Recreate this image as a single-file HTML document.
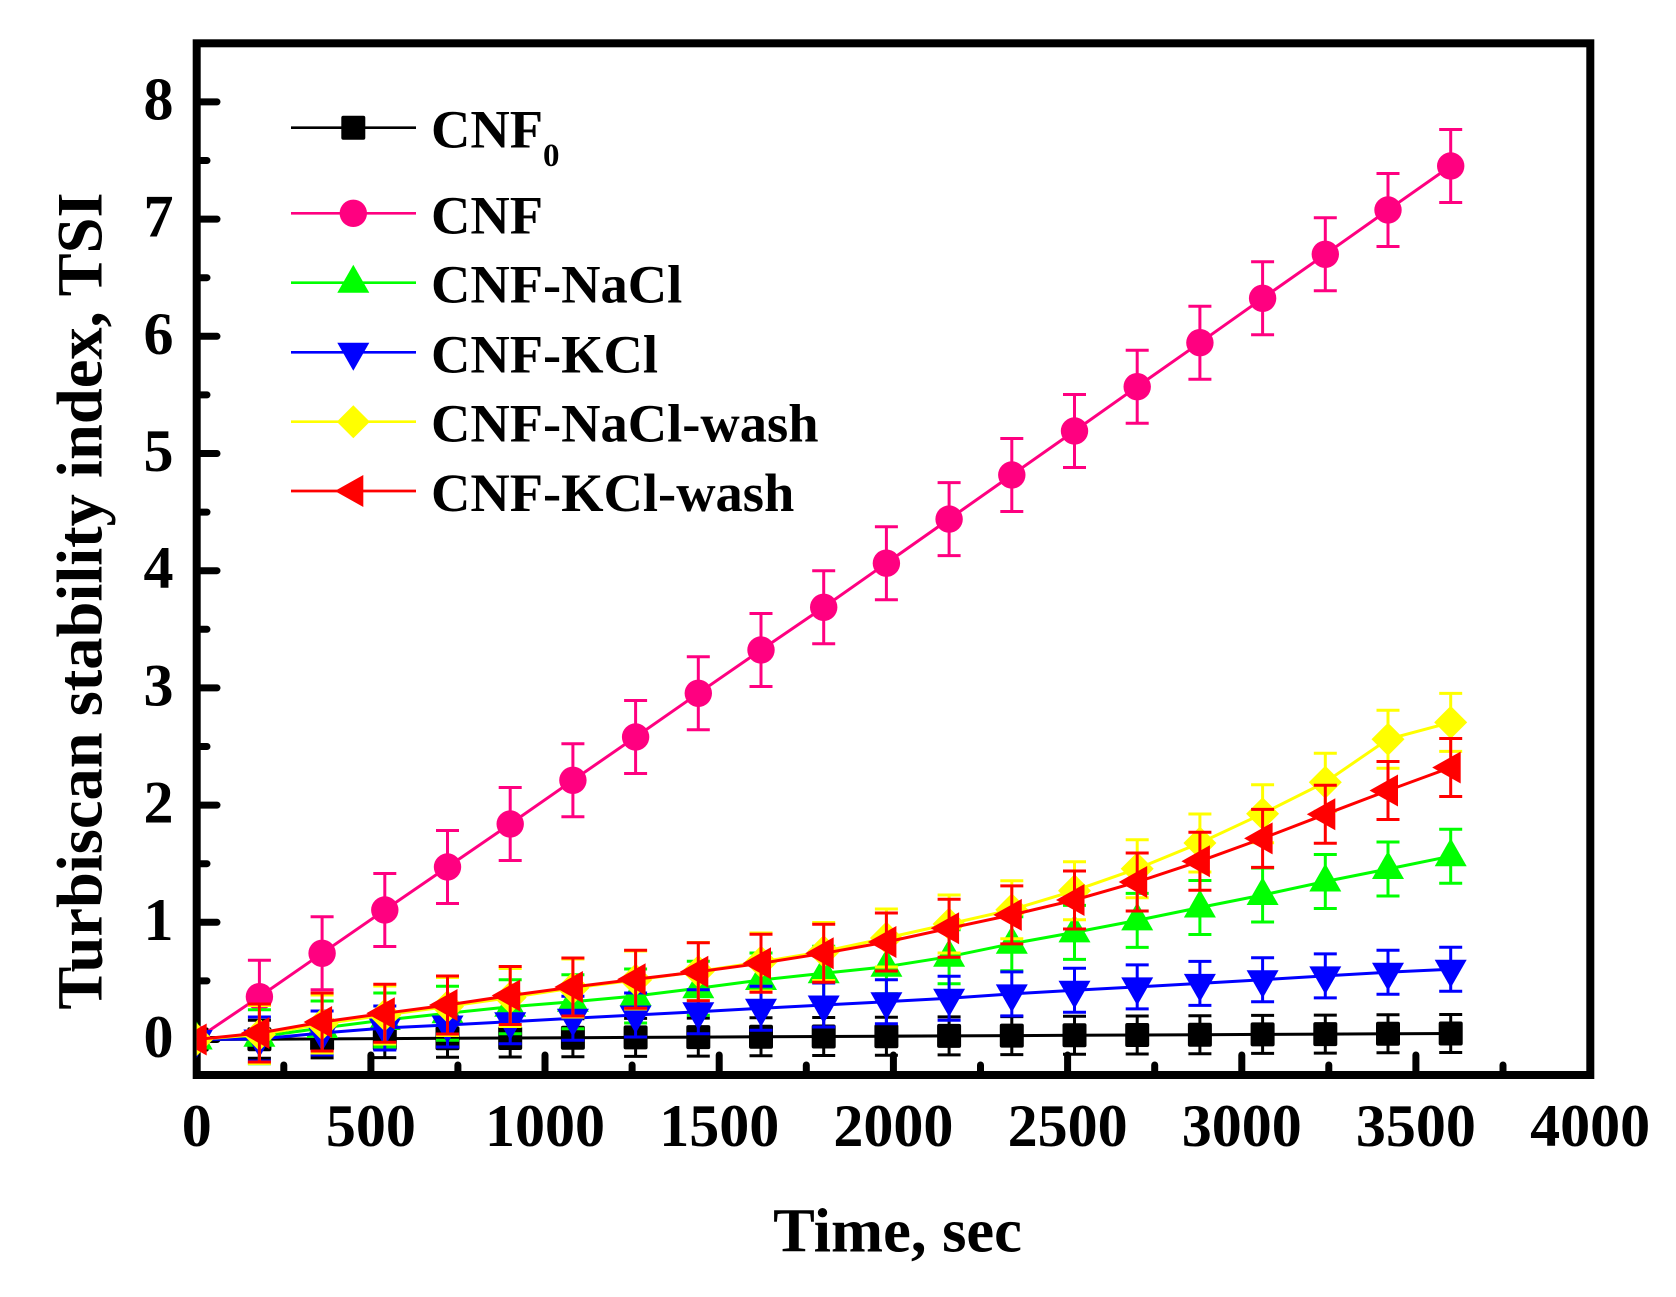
<!DOCTYPE html>
<html><head><meta charset="utf-8"><style>
html,body{margin:0;padding:0;background:#fff;}
svg{display:block;}
text{font-family:"Liberation Serif","Times New Roman",serif;font-weight:bold;fill:#000;}
</style></head><body>
<svg width="1676" height="1297" viewBox="0 0 1676 1297" xmlns="http://www.w3.org/2000/svg" xmlns:xlink="http://www.w3.org/1999/xlink">
<defs>
<clipPath id="pc"><rect x="196.7" y="43" width="1394" height="1032"/></clipPath>
<rect id="sq" x="-12" y="-12" width="24" height="24" rx="2"/>
<circle id="ci" r="13.7"/>
<polygon id="tu" points="0,-18 16,10 -16,10"/>
<polygon id="td" points="0,18.5 16,-9.5 -16,-9.5"/>
<polygon id="di" points="0,-16.5 16.5,0 0,16.5 -16.5,0"/>
<polygon id="tl" points="-18.5,0 10,-16 10,16"/>
<path id="e19" d="M0,-19V19M-11.5,-19h23M-11.5,19h23"/>
<path id="e22" d="M0,-22V22M-11.5,-22h23M-11.5,22h23"/>
<path id="e27" d="M0,-27V27M-11.5,-27h23M-11.5,27h23"/>
<path id="e29" d="M0,-29V29M-11.5,-29h23M-11.5,29h23"/>
<path id="e36" d="M0,-36.5V36.5M-11.5,-36.5h23M-11.5,36.5h23"/>
</defs>
<rect width="1676" height="1297" fill="#fff"/>

<!-- frame -->
<rect x="196.7" y="43.3" width="1393.6" height="1031.7" fill="none" stroke="#000" stroke-width="8"/>

<!-- y ticks -->
<g stroke="#000" stroke-width="7" stroke-linecap="round">
<path d="M197,1039.5H217M197,922.3H217M197,805.1H217M197,687.9H217M197,570.7H217M197,453.5H217M197,336.3H217M197,219.1H217M197,101.9H217"/>
<path d="M197,980.9H207M197,863.7H207M197,746.5H207M197,629.3H207M197,512.1H207M197,394.9H207M197,277.7H207M197,160.5H207"/>
<path d="M370.9,1075V1055M545,1075V1055M719.2,1075V1055M893.4,1075V1055M1067.6,1075V1055M1241.8,1075V1055M1415.9,1075V1055"/>
<path d="M283.8,1075V1065M457.9,1075V1065M632.1,1075V1065M806.3,1075V1065M980.5,1075V1065M1154.7,1075V1065M1328.8,1075V1065M1503,1075V1065"/>
</g>

<!-- y tick labels -->
<g font-size="60" text-anchor="end">
<text x="173.5" y="1057">0</text>
<text x="173.5" y="939.8">1</text>
<text x="173.5" y="822.6">2</text>
<text x="173.5" y="705.4">3</text>
<text x="173.5" y="588.2">4</text>
<text x="173.5" y="471">5</text>
<text x="173.5" y="353.8">6</text>
<text x="173.5" y="236.6">7</text>
<text x="173.5" y="119.4">8</text>
</g>
<!-- x tick labels -->
<g font-size="60" text-anchor="middle">
<text x="196.7" y="1146">0</text>
<text x="370.9" y="1146">500</text>
<text x="545" y="1146">1000</text>
<text x="719.2" y="1146">1500</text>
<text x="893.4" y="1146">2000</text>
<text x="1067.6" y="1146">2500</text>
<text x="1241.8" y="1146">3000</text>
<text x="1415.9" y="1146">3500</text>
<text x="1590.1" y="1146">4000</text>
</g>

<!-- axis titles -->
<text x="897.5" y="1251.7" font-size="62.5" text-anchor="middle">Time, sec</text>
<text transform="translate(101.7,601) rotate(-90)" font-size="64.5" text-anchor="middle">Turbiscan stability index, TSI</text>

<!-- data -->
<g clip-path="url(#pc)">
<!-- CNF0 black -->
<polyline fill="none" stroke="#000" stroke-width="3" points="196.7,1039.5 259.4,1039.2 322.1,1038.9 384.8,1038.6 447.5,1038.3 510.2,1038 572.9,1037.7 635.6,1037.4 698.3,1037.1 761,1036.8 823.7,1036.5 886.4,1036.2 949.1,1035.9 1011.8,1035.6 1074.5,1035.3 1137.2,1035 1199.9,1034.7 1262.6,1034.4 1325.3,1034.1 1388,1033.8 1450.7,1033.5"/>
<g stroke="#000" stroke-width="3" fill="none">
<use href="#e19" xlink:href="#e19" x="259.4" y="1039.2"/><use href="#e19" xlink:href="#e19" x="322.1" y="1038.9"/><use href="#e19" xlink:href="#e19" x="384.8" y="1038.6"/><use href="#e19" xlink:href="#e19" x="447.5" y="1038.3"/><use href="#e19" xlink:href="#e19" x="510.2" y="1038"/><use href="#e19" xlink:href="#e19" x="572.9" y="1037.7"/><use href="#e19" xlink:href="#e19" x="635.6" y="1037.4"/><use href="#e19" xlink:href="#e19" x="698.3" y="1037.1"/><use href="#e19" xlink:href="#e19" x="761" y="1036.8"/><use href="#e19" xlink:href="#e19" x="823.7" y="1036.5"/><use href="#e19" xlink:href="#e19" x="886.4" y="1036.2"/><use href="#e19" xlink:href="#e19" x="949.1" y="1035.9"/><use href="#e19" xlink:href="#e19" x="1011.8" y="1035.6"/><use href="#e19" xlink:href="#e19" x="1074.5" y="1035.3"/><use href="#e19" xlink:href="#e19" x="1137.2" y="1035"/><use href="#e19" xlink:href="#e19" x="1199.9" y="1034.7"/><use href="#e19" xlink:href="#e19" x="1262.6" y="1034.4"/><use href="#e19" xlink:href="#e19" x="1325.3" y="1034.1"/><use href="#e19" xlink:href="#e19" x="1388" y="1033.8"/><use href="#e19" xlink:href="#e19" x="1450.7" y="1033.5"/>
</g>
<g fill="#000">
<use href="#sq" xlink:href="#sq" x="196.7" y="1039.5"/><use href="#sq" xlink:href="#sq" x="259.4" y="1039.2"/><use href="#sq" xlink:href="#sq" x="322.1" y="1038.9"/><use href="#sq" xlink:href="#sq" x="384.8" y="1038.6"/><use href="#sq" xlink:href="#sq" x="447.5" y="1038.3"/><use href="#sq" xlink:href="#sq" x="510.2" y="1038"/><use href="#sq" xlink:href="#sq" x="572.9" y="1037.7"/><use href="#sq" xlink:href="#sq" x="635.6" y="1037.4"/><use href="#sq" xlink:href="#sq" x="698.3" y="1037.1"/><use href="#sq" xlink:href="#sq" x="761" y="1036.8"/><use href="#sq" xlink:href="#sq" x="823.7" y="1036.5"/><use href="#sq" xlink:href="#sq" x="886.4" y="1036.2"/><use href="#sq" xlink:href="#sq" x="949.1" y="1035.9"/><use href="#sq" xlink:href="#sq" x="1011.8" y="1035.6"/><use href="#sq" xlink:href="#sq" x="1074.5" y="1035.3"/><use href="#sq" xlink:href="#sq" x="1137.2" y="1035"/><use href="#sq" xlink:href="#sq" x="1199.9" y="1034.7"/><use href="#sq" xlink:href="#sq" x="1262.6" y="1034.4"/><use href="#sq" xlink:href="#sq" x="1325.3" y="1034.1"/><use href="#sq" xlink:href="#sq" x="1388" y="1033.8"/><use href="#sq" xlink:href="#sq" x="1450.7" y="1033.5"/>
</g>

<!-- CNF pink -->
<polyline fill="none" stroke="#FF0080" stroke-width="3" points="196.7,1039 259.4,996.7 322.1,953.3 384.8,910 447.5,867 510.2,824 572.9,780.3 635.6,737 698.3,693.3 761,650 823.7,607.3 886.4,563.2 949.1,519.1 1011.8,475 1074.5,431 1137.2,386.7 1199.9,342.7 1262.6,298.3 1325.3,254.3 1388,210 1450.7,166"/>
<g stroke="#FF0080" stroke-width="3" fill="none">
<use href="#e36" xlink:href="#e36" x="259.4" y="996.7"/><use href="#e36" xlink:href="#e36" x="322.1" y="953.3"/><use href="#e36" xlink:href="#e36" x="384.8" y="910"/><use href="#e36" xlink:href="#e36" x="447.5" y="867"/><use href="#e36" xlink:href="#e36" x="510.2" y="824"/><use href="#e36" xlink:href="#e36" x="572.9" y="780.3"/><use href="#e36" xlink:href="#e36" x="635.6" y="737"/><use href="#e36" xlink:href="#e36" x="698.3" y="693.3"/><use href="#e36" xlink:href="#e36" x="761" y="650"/><use href="#e36" xlink:href="#e36" x="823.7" y="607.3"/><use href="#e36" xlink:href="#e36" x="886.4" y="563.2"/><use href="#e36" xlink:href="#e36" x="949.1" y="519.1"/><use href="#e36" xlink:href="#e36" x="1011.8" y="475"/><use href="#e36" xlink:href="#e36" x="1074.5" y="431"/><use href="#e36" xlink:href="#e36" x="1137.2" y="386.7"/><use href="#e36" xlink:href="#e36" x="1199.9" y="342.7"/><use href="#e36" xlink:href="#e36" x="1262.6" y="298.3"/><use href="#e36" xlink:href="#e36" x="1325.3" y="254.3"/><use href="#e36" xlink:href="#e36" x="1388" y="210"/><use href="#e36" xlink:href="#e36" x="1450.7" y="166"/>
</g>
<g fill="#FF0080">
<use href="#ci" xlink:href="#ci" x="196.7" y="1039"/><use href="#ci" xlink:href="#ci" x="259.4" y="996.7"/><use href="#ci" xlink:href="#ci" x="322.1" y="953.3"/><use href="#ci" xlink:href="#ci" x="384.8" y="910"/><use href="#ci" xlink:href="#ci" x="447.5" y="867"/><use href="#ci" xlink:href="#ci" x="510.2" y="824"/><use href="#ci" xlink:href="#ci" x="572.9" y="780.3"/><use href="#ci" xlink:href="#ci" x="635.6" y="737"/><use href="#ci" xlink:href="#ci" x="698.3" y="693.3"/><use href="#ci" xlink:href="#ci" x="761" y="650"/><use href="#ci" xlink:href="#ci" x="823.7" y="607.3"/><use href="#ci" xlink:href="#ci" x="886.4" y="563.2"/><use href="#ci" xlink:href="#ci" x="949.1" y="519.1"/><use href="#ci" xlink:href="#ci" x="1011.8" y="475"/><use href="#ci" xlink:href="#ci" x="1074.5" y="431"/><use href="#ci" xlink:href="#ci" x="1137.2" y="386.7"/><use href="#ci" xlink:href="#ci" x="1199.9" y="342.7"/><use href="#ci" xlink:href="#ci" x="1262.6" y="298.3"/><use href="#ci" xlink:href="#ci" x="1325.3" y="254.3"/><use href="#ci" xlink:href="#ci" x="1388" y="210"/><use href="#ci" xlink:href="#ci" x="1450.7" y="166"/>
</g>

<!-- CNF-NaCl green -->
<polyline fill="none" stroke="#00FF00" stroke-width="3" points="196.7,1039.5 259.4,1036.7 322.1,1028 384.8,1020 447.5,1013.3 510.2,1006.7 572.9,1001.7 635.6,996 698.3,988.3 761,980 823.7,973.3 886.4,966.7 949.1,956.7 1011.8,943.7 1074.5,932.4 1137.2,920.4 1199.9,907.5 1262.6,895 1325.3,881.5 1388,869 1450.7,856.2"/>
<g stroke="#00FF00" stroke-width="3" fill="none">
<use href="#e27" xlink:href="#e27" x="259.4" y="1036.7"/><use href="#e27" xlink:href="#e27" x="322.1" y="1028"/><use href="#e27" xlink:href="#e27" x="384.8" y="1020"/><use href="#e27" xlink:href="#e27" x="447.5" y="1013.3"/><use href="#e27" xlink:href="#e27" x="510.2" y="1006.7"/><use href="#e27" xlink:href="#e27" x="572.9" y="1001.7"/><use href="#e27" xlink:href="#e27" x="635.6" y="996"/><use href="#e27" xlink:href="#e27" x="698.3" y="988.3"/><use href="#e27" xlink:href="#e27" x="761" y="980"/><use href="#e27" xlink:href="#e27" x="823.7" y="973.3"/><use href="#e27" xlink:href="#e27" x="886.4" y="966.7"/><use href="#e27" xlink:href="#e27" x="949.1" y="956.7"/><use href="#e27" xlink:href="#e27" x="1011.8" y="943.7"/><use href="#e27" xlink:href="#e27" x="1074.5" y="932.4"/><use href="#e27" xlink:href="#e27" x="1137.2" y="920.4"/><use href="#e27" xlink:href="#e27" x="1199.9" y="907.5"/><use href="#e27" xlink:href="#e27" x="1262.6" y="895"/><use href="#e27" xlink:href="#e27" x="1325.3" y="881.5"/><use href="#e27" xlink:href="#e27" x="1388" y="869"/><use href="#e27" xlink:href="#e27" x="1450.7" y="856.2"/>
</g>
<g fill="#00FF00">
<use href="#tu" xlink:href="#tu" x="196.7" y="1039.5"/><use href="#tu" xlink:href="#tu" x="259.4" y="1036.7"/><use href="#tu" xlink:href="#tu" x="322.1" y="1028"/><use href="#tu" xlink:href="#tu" x="384.8" y="1020"/><use href="#tu" xlink:href="#tu" x="447.5" y="1013.3"/><use href="#tu" xlink:href="#tu" x="510.2" y="1006.7"/><use href="#tu" xlink:href="#tu" x="572.9" y="1001.7"/><use href="#tu" xlink:href="#tu" x="635.6" y="996"/><use href="#tu" xlink:href="#tu" x="698.3" y="988.3"/><use href="#tu" xlink:href="#tu" x="761" y="980"/><use href="#tu" xlink:href="#tu" x="823.7" y="973.3"/><use href="#tu" xlink:href="#tu" x="886.4" y="966.7"/><use href="#tu" xlink:href="#tu" x="949.1" y="956.7"/><use href="#tu" xlink:href="#tu" x="1011.8" y="943.7"/><use href="#tu" xlink:href="#tu" x="1074.5" y="932.4"/><use href="#tu" xlink:href="#tu" x="1137.2" y="920.4"/><use href="#tu" xlink:href="#tu" x="1199.9" y="907.5"/><use href="#tu" xlink:href="#tu" x="1262.6" y="895"/><use href="#tu" xlink:href="#tu" x="1325.3" y="881.5"/><use href="#tu" xlink:href="#tu" x="1388" y="869"/><use href="#tu" xlink:href="#tu" x="1450.7" y="856.2"/>
</g>

<!-- CNF-KCl blue -->
<polyline fill="none" stroke="#0000FF" stroke-width="3" points="196.7,1039.5 259.4,1039 322.1,1033 384.8,1028 447.5,1025 510.2,1021.7 572.9,1018.3 635.6,1015 698.3,1011.7 761,1008.3 823.7,1005 886.4,1001.7 949.1,998.3 1011.8,993.9 1074.5,990.3 1137.2,986.9 1199.9,983.4 1262.6,979.7 1325.3,975.9 1388,972.2 1450.7,969.2"/>
<g stroke="#0000FF" stroke-width="3" fill="none">
<use href="#e22" xlink:href="#e22" x="259.4" y="1039"/><use href="#e22" xlink:href="#e22" x="322.1" y="1033"/><use href="#e22" xlink:href="#e22" x="384.8" y="1028"/><use href="#e22" xlink:href="#e22" x="447.5" y="1025"/><use href="#e22" xlink:href="#e22" x="510.2" y="1021.7"/><use href="#e22" xlink:href="#e22" x="572.9" y="1018.3"/><use href="#e22" xlink:href="#e22" x="635.6" y="1015"/><use href="#e22" xlink:href="#e22" x="698.3" y="1011.7"/><use href="#e22" xlink:href="#e22" x="761" y="1008.3"/><use href="#e22" xlink:href="#e22" x="823.7" y="1005"/><use href="#e22" xlink:href="#e22" x="886.4" y="1001.7"/><use href="#e22" xlink:href="#e22" x="949.1" y="998.3"/><use href="#e22" xlink:href="#e22" x="1011.8" y="993.9"/><use href="#e22" xlink:href="#e22" x="1074.5" y="990.3"/><use href="#e22" xlink:href="#e22" x="1137.2" y="986.9"/><use href="#e22" xlink:href="#e22" x="1199.9" y="983.4"/><use href="#e22" xlink:href="#e22" x="1262.6" y="979.7"/><use href="#e22" xlink:href="#e22" x="1325.3" y="975.9"/><use href="#e22" xlink:href="#e22" x="1388" y="972.2"/><use href="#e22" xlink:href="#e22" x="1450.7" y="969.2"/>
</g>
<g fill="#0000FF">
<use href="#td" xlink:href="#td" x="196.7" y="1039.5"/><use href="#td" xlink:href="#td" x="259.4" y="1039"/><use href="#td" xlink:href="#td" x="322.1" y="1033"/><use href="#td" xlink:href="#td" x="384.8" y="1028"/><use href="#td" xlink:href="#td" x="447.5" y="1025"/><use href="#td" xlink:href="#td" x="510.2" y="1021.7"/><use href="#td" xlink:href="#td" x="572.9" y="1018.3"/><use href="#td" xlink:href="#td" x="635.6" y="1015"/><use href="#td" xlink:href="#td" x="698.3" y="1011.7"/><use href="#td" xlink:href="#td" x="761" y="1008.3"/><use href="#td" xlink:href="#td" x="823.7" y="1005"/><use href="#td" xlink:href="#td" x="886.4" y="1001.7"/><use href="#td" xlink:href="#td" x="949.1" y="998.3"/><use href="#td" xlink:href="#td" x="1011.8" y="993.9"/><use href="#td" xlink:href="#td" x="1074.5" y="990.3"/><use href="#td" xlink:href="#td" x="1137.2" y="986.9"/><use href="#td" xlink:href="#td" x="1199.9" y="983.4"/><use href="#td" xlink:href="#td" x="1262.6" y="979.7"/><use href="#td" xlink:href="#td" x="1325.3" y="975.9"/><use href="#td" xlink:href="#td" x="1388" y="972.2"/><use href="#td" xlink:href="#td" x="1450.7" y="969.2"/>
</g>

<!-- CNF-NaCl-wash yellow -->
<polyline fill="none" stroke="#FFFF00" stroke-width="3" points="196.7,1039.5 259.4,1034.5 322.1,1024 384.8,1015 447.5,1006.5 510.2,997.5 572.9,988 635.6,980 698.3,971.5 761,962 823.7,951.5 886.4,938 949.1,924 1011.8,909.7 1074.5,890.7 1137.2,868.7 1199.9,843 1262.6,813.7 1325.3,782.2 1388,739.2 1450.7,722.4"/>
<g stroke="#FFFF00" stroke-width="3" fill="none">
<use href="#e29" xlink:href="#e29" x="259.4" y="1034.5"/><use href="#e29" xlink:href="#e29" x="322.1" y="1024"/><use href="#e29" xlink:href="#e29" x="384.8" y="1015"/><use href="#e29" xlink:href="#e29" x="447.5" y="1006.5"/><use href="#e29" xlink:href="#e29" x="510.2" y="997.5"/><use href="#e29" xlink:href="#e29" x="572.9" y="988"/><use href="#e29" xlink:href="#e29" x="635.6" y="980"/><use href="#e29" xlink:href="#e29" x="698.3" y="971.5"/><use href="#e29" xlink:href="#e29" x="761" y="962"/><use href="#e29" xlink:href="#e29" x="823.7" y="951.5"/><use href="#e29" xlink:href="#e29" x="886.4" y="938"/><use href="#e29" xlink:href="#e29" x="949.1" y="924"/><use href="#e29" xlink:href="#e29" x="1011.8" y="909.7"/><use href="#e29" xlink:href="#e29" x="1074.5" y="890.7"/><use href="#e29" xlink:href="#e29" x="1137.2" y="868.7"/><use href="#e29" xlink:href="#e29" x="1199.9" y="843"/><use href="#e29" xlink:href="#e29" x="1262.6" y="813.7"/><use href="#e29" xlink:href="#e29" x="1325.3" y="782.2"/><use href="#e29" xlink:href="#e29" x="1388" y="739.2"/><use href="#e29" xlink:href="#e29" x="1450.7" y="722.4"/>
</g>
<g fill="#FFFF00">
<use href="#di" xlink:href="#di" x="196.7" y="1039.5"/><use href="#di" xlink:href="#di" x="259.4" y="1034.5"/><use href="#di" xlink:href="#di" x="322.1" y="1024"/><use href="#di" xlink:href="#di" x="384.8" y="1015"/><use href="#di" xlink:href="#di" x="447.5" y="1006.5"/><use href="#di" xlink:href="#di" x="510.2" y="997.5"/><use href="#di" xlink:href="#di" x="572.9" y="988"/><use href="#di" xlink:href="#di" x="635.6" y="980"/><use href="#di" xlink:href="#di" x="698.3" y="971.5"/><use href="#di" xlink:href="#di" x="761" y="962"/><use href="#di" xlink:href="#di" x="823.7" y="951.5"/><use href="#di" xlink:href="#di" x="886.4" y="938"/><use href="#di" xlink:href="#di" x="949.1" y="924"/><use href="#di" xlink:href="#di" x="1011.8" y="909.7"/><use href="#di" xlink:href="#di" x="1074.5" y="890.7"/><use href="#di" xlink:href="#di" x="1137.2" y="868.7"/><use href="#di" xlink:href="#di" x="1199.9" y="843"/><use href="#di" xlink:href="#di" x="1262.6" y="813.7"/><use href="#di" xlink:href="#di" x="1325.3" y="782.2"/><use href="#di" xlink:href="#di" x="1388" y="739.2"/><use href="#di" xlink:href="#di" x="1450.7" y="722.4"/>
</g>

<!-- CNF-KCl-wash red -->
<polyline fill="none" stroke="#FF0000" stroke-width="3" points="196.7,1039.5 259.4,1033 322.1,1022 384.8,1013.3 447.5,1005 510.2,995.5 572.9,987 635.6,979.3 698.3,971.7 761,963.3 823.7,953.3 886.4,942 949.1,928.3 1011.8,914.9 1074.5,900 1137.2,882 1199.9,861.2 1262.6,838.4 1325.3,814.3 1388,790.5 1450.7,767.5"/>
<g stroke="#FF0000" stroke-width="3" fill="none">
<use href="#e29" xlink:href="#e29" x="259.4" y="1033"/><use href="#e29" xlink:href="#e29" x="322.1" y="1022"/><use href="#e29" xlink:href="#e29" x="384.8" y="1013.3"/><use href="#e29" xlink:href="#e29" x="447.5" y="1005"/><use href="#e29" xlink:href="#e29" x="510.2" y="995.5"/><use href="#e29" xlink:href="#e29" x="572.9" y="987"/><use href="#e29" xlink:href="#e29" x="635.6" y="979.3"/><use href="#e29" xlink:href="#e29" x="698.3" y="971.7"/><use href="#e29" xlink:href="#e29" x="761" y="963.3"/><use href="#e29" xlink:href="#e29" x="823.7" y="953.3"/><use href="#e29" xlink:href="#e29" x="886.4" y="942"/><use href="#e29" xlink:href="#e29" x="949.1" y="928.3"/><use href="#e29" xlink:href="#e29" x="1011.8" y="914.9"/><use href="#e29" xlink:href="#e29" x="1074.5" y="900"/><use href="#e29" xlink:href="#e29" x="1137.2" y="882"/><use href="#e29" xlink:href="#e29" x="1199.9" y="861.2"/><use href="#e29" xlink:href="#e29" x="1262.6" y="838.4"/><use href="#e29" xlink:href="#e29" x="1325.3" y="814.3"/><use href="#e29" xlink:href="#e29" x="1388" y="790.5"/><use href="#e29" xlink:href="#e29" x="1450.7" y="767.5"/>
</g>
<g fill="#FF0000">
<use href="#tl" xlink:href="#tl" x="196.7" y="1039.5"/><use href="#tl" xlink:href="#tl" x="259.4" y="1033"/><use href="#tl" xlink:href="#tl" x="322.1" y="1022"/><use href="#tl" xlink:href="#tl" x="384.8" y="1013.3"/><use href="#tl" xlink:href="#tl" x="447.5" y="1005"/><use href="#tl" xlink:href="#tl" x="510.2" y="995.5"/><use href="#tl" xlink:href="#tl" x="572.9" y="987"/><use href="#tl" xlink:href="#tl" x="635.6" y="979.3"/><use href="#tl" xlink:href="#tl" x="698.3" y="971.7"/><use href="#tl" xlink:href="#tl" x="761" y="963.3"/><use href="#tl" xlink:href="#tl" x="823.7" y="953.3"/><use href="#tl" xlink:href="#tl" x="886.4" y="942"/><use href="#tl" xlink:href="#tl" x="949.1" y="928.3"/><use href="#tl" xlink:href="#tl" x="1011.8" y="914.9"/><use href="#tl" xlink:href="#tl" x="1074.5" y="900"/><use href="#tl" xlink:href="#tl" x="1137.2" y="882"/><use href="#tl" xlink:href="#tl" x="1199.9" y="861.2"/><use href="#tl" xlink:href="#tl" x="1262.6" y="838.4"/><use href="#tl" xlink:href="#tl" x="1325.3" y="814.3"/><use href="#tl" xlink:href="#tl" x="1388" y="790.5"/><use href="#tl" xlink:href="#tl" x="1450.7" y="767.5"/>
</g>
</g>

<!-- legend -->
<g stroke-width="2.7">
<line x1="291" y1="127.7" x2="416" y2="127.7" stroke="#000"/>
<line x1="291" y1="213.3" x2="416" y2="213.3" stroke="#FF0080"/>
<line x1="291" y1="282.7" x2="416" y2="282.7" stroke="#00FF00"/>
<line x1="291" y1="352.3" x2="416" y2="352.3" stroke="#0000FF"/>
<line x1="291" y1="421.7" x2="416" y2="421.7" stroke="#FFFF00"/>
<line x1="291" y1="491" x2="416" y2="491" stroke="#FF0000"/>
</g>
<use href="#sq" xlink:href="#sq" x="353.3" y="127.7" fill="#000"/>
<use href="#ci" xlink:href="#ci" x="353.3" y="213.3" fill="#FF0080"/>
<use href="#tu" xlink:href="#tu" x="353.3" y="282.7" fill="#00FF00"/>
<use href="#td" xlink:href="#td" x="353.3" y="352.3" fill="#0000FF"/>
<use href="#di" xlink:href="#di" x="353.3" y="421.7" fill="#FFFF00"/>
<use href="#tl" xlink:href="#tl" x="353.3" y="491" fill="#FF0000"/>
<g font-size="54.5">
<text x="431" y="147.3">CNF<tspan font-size="33" dy="18.7">0</tspan></text>
<text x="431" y="233.3">CNF</text>
<text x="431" y="302.7">CNF-NaCl</text>
<text x="431" y="372.3">CNF-KCl</text>
<text x="431" y="441.7">CNF-NaCl-wash</text>
<text x="431" y="511">CNF-KCl-wash</text>
</g>
</svg>
</body></html>
